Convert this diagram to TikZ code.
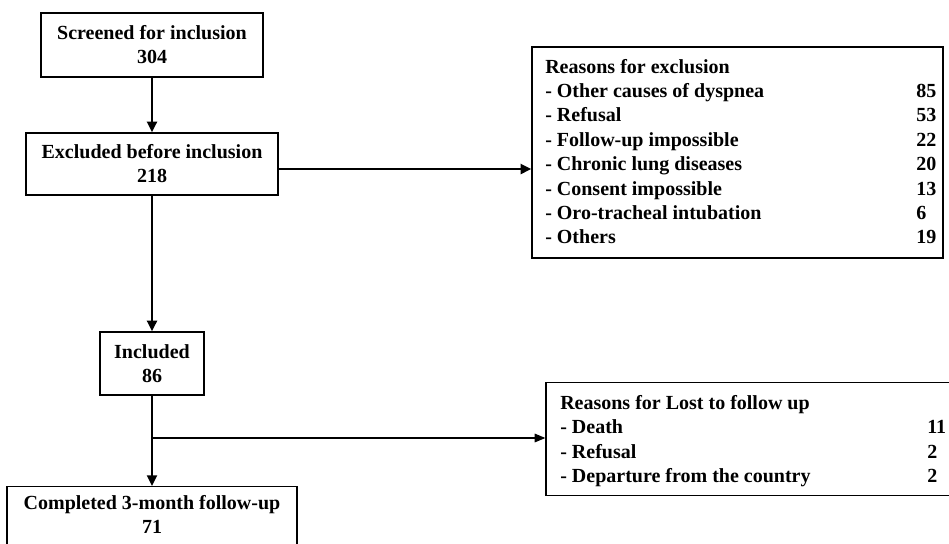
\documentclass[tikz,border=0pt]{standalone}
\usepackage{fontspec}
\setmainfont{Liberation Serif}
\usetikzlibrary{arrows.meta}
\begin{document}
\begin{tikzpicture}[x=0.75pt,y=-0.75pt,
  font=\fontsize{15}{18}\selectfont\bfseries,
  box/.style={draw, line width=1pt, inner sep=2pt, align=center},
  txt/.style={inner sep=0pt, anchor=base west},
  arr/.style={line width=1.5pt, -{Triangle[length=8pt,width=7.5pt]}},
  thinarr/.style={line width=0.8pt, -{Triangle[length=8pt,width=6.5pt]}}]
\useasboundingbox (0,0) rectangle (949,543);
% main column
\node[box, minimum width=166.5pt, minimum height=48pt] (b1) at (152,45) {Screened for inclusion\\304};
\node[box, minimum width=189pt, minimum height=46.5pt] (b2) at (152,164) {Excluded before inclusion\\218};
\node[box, minimum width=78pt, minimum height=47.25pt] (b3) at (152,363.5) {Included\\86};
\node[box, anchor=north, minimum width=217.5pt, inner ysep=3pt] (b4) at (152,486) {\rule{0pt}{14pt}Completed 3-month follow-up\\71\\~};
% side boxes
\node[draw, line width=1pt, minimum width=308.25pt, minimum height=158.25pt] (ex) at (737.5,152.5) {};
\node[draw, line width=1pt, minimum width=318pt, minimum height=85pt] (lost) at (758,439) {};
% exclusion reasons
\node[txt] (e0) at (545,73) {Reasons for exclusion};
\node[txt] (e1) at (545,97.4) {- Other causes of dyspnea};
\node[txt] (e2) at (545,121.8) {- Refusal};
\node[txt] (e3) at (545,146.2) {- Follow-up impossible};
\node[txt] (e4) at (545,170.6) {- Chronic lung diseases};
\node[txt] (e5) at (545,195) {- Consent impossible};
\node[txt] (e6) at (545,219.4) {- Oro-tracheal intubation};
\node[txt] (e7) at (545,243.8) {- Others};
\node[txt] (n1) at (916,97.4) {85};
\node[txt] (n2) at (916,121.8) {53};
\node[txt] (n3) at (916,146.2) {22};
\node[txt] (n4) at (916,170.6) {20};
\node[txt] (n5) at (916,195) {13};
\node[txt] (n6) at (916,219.4) {6};
\node[txt] (n7) at (916,243.8) {19};
% lost reasons
\node[txt] (l0) at (560,409) {Reasons for Lost to follow up};
\node[txt] (l1) at (560,433.5) {- Death};
\node[txt] (l2) at (560,458) {- Refusal};
\node[txt] (l3) at (560,482.5) {- Departure from the country};
\node[txt] (m1) at (927,433.5) {11};
\node[txt] (m2) at (927,458) {2};
\node[txt] (m3) at (927,482.5) {2};
% connectors
\draw[arr] (b1.south) -- (b2.north);
\draw[arr] ([yshift=-3.75pt]b2.east) -- ([yshift=-3.75pt]b2.east -| ex.west);
\draw[arr] (b2.south) -- (b3.north);
\draw[arr] (b3.south) -- (b4.north);
\coordinate (br) at (152,438);
\draw[thinarr] (br) -- (br -| lost.west);
\end{tikzpicture}
\end{document}
